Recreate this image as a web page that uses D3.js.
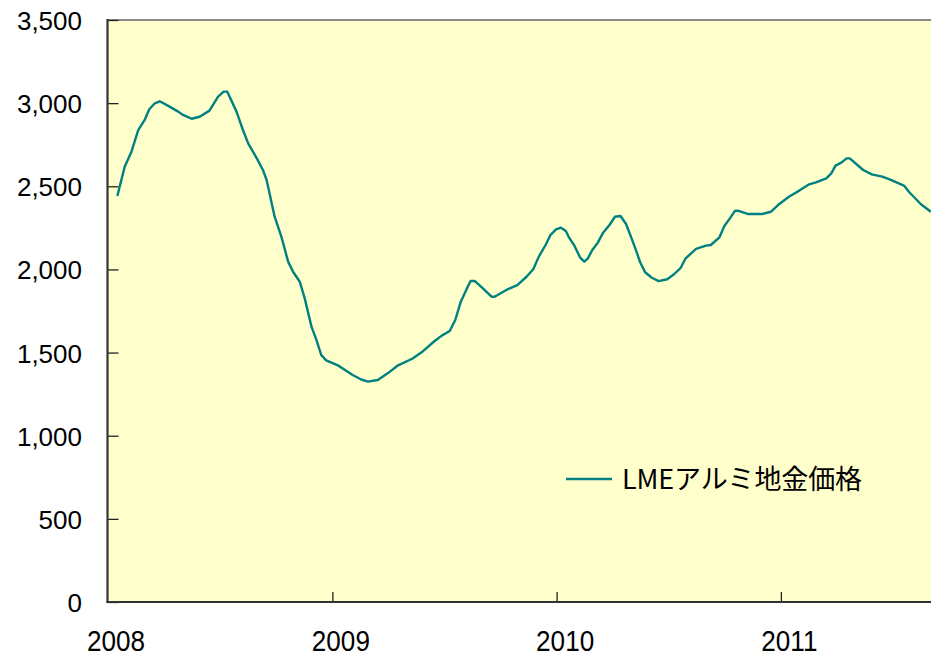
<!DOCTYPE html>
<html><head><meta charset="utf-8">
<script src="https://cdn.jsdelivr.net/npm/d3@7"></script>
<style>body{margin:0;background:#fff}svg{display:block}</style>
</head><body>
<svg id="c" width="931" height="657"></svg>
<script>
const dates = ["2008-01-17","2008-01-29","2008-02-09","2008-02-20","2008-03-02","2008-03-09","2008-03-18","2008-03-26","2008-04-11","2008-04-25","2008-05-03","2008-05-17","2008-05-30","2008-06-15","2008-06-29","2008-07-08","2008-07-14","2008-07-29","2008-08-08","2008-08-17","2008-08-31","2008-09-10","2008-09-16","2008-09-29","2008-10-10","2008-10-21","2008-10-29","2008-11-09","2008-11-17","2008-11-28","2008-12-06","2008-12-14","2008-12-22","2009-01-10","2009-01-26","2009-02-03","2009-02-17","2009-02-28","2009-03-16","2009-04-01","2009-04-17","2009-05-11","2009-05-28","2009-06-16","2009-06-28","2009-07-11","2009-07-20","2009-07-29","2009-08-08","2009-08-14","2009-08-21","2009-09-03","2009-09-17","2009-09-22","2009-10-14","2009-10-29","2009-11-13","2009-11-24","2009-12-03","2009-12-14","2009-12-22","2009-12-31","2010-01-08","2010-01-16","2010-01-21","2010-01-30","2010-02-08","2010-02-15","2010-02-21","2010-02-28","2010-03-09","2010-03-17","2010-03-28","2010-04-06","2010-04-15","2010-04-24","2010-05-03","2010-05-11","2010-05-17","2010-05-25","2010-06-05","2010-06-16","2010-06-30","2010-07-11","2010-07-22","2010-07-30","2010-08-16","2010-09-01","2010-09-09","2010-09-23","2010-10-01","2010-10-10","2010-10-18","2010-10-23","2010-11-09","2010-12-01","2010-12-16","2010-12-29","2011-01-14","2011-01-31","2011-02-16","2011-02-27","2011-03-16","2011-03-24","2011-03-31","2011-04-10","2011-04-18","2011-04-23","2011-05-15","2011-05-29","2011-06-15","2011-06-29","2011-07-21","2011-07-29","2011-08-17","2011-09-02"];
const prices = [2442,2618,2708,2838,2903,2963,2999,3011,2979,2949,2929,2906,2918,2955,3039,3069,3069,2949,2843,2758,2668,2598,2538,2317,2197,2047,1986,1926,1826,1656,1576,1485,1453,1423,1385,1365,1338,1325,1335,1375,1421,1463,1507,1568,1602,1630,1696,1806,1886,1930,1930,1886,1836,1836,1882,1906,1956,2001,2077,2147,2207,2241,2251,2231,2193,2143,2073,2047,2067,2117,2161,2217,2267,2317,2321,2273,2187,2107,2043,1983,1950,1930,1941,1971,2010,2067,2123,2143,2147,2193,2261,2307,2351,2353,2333,2333,2347,2392,2437,2474,2512,2524,2548,2578,2624,2644,2668,2668,2598,2572,2558,2538,2502,2464,2392,2347];
const yTicks = [0,500,1000,1500,2000,2500,3000,3500];
const xTickLabels = ["2008","2009","2010","2011"];
const seriesName = "LMEアルミ地金価格";

const parse = d3.timeParse("%Y-%m-%d");
const data = dates.map((d,i)=>({date:parse(d), v:prices[i]}));
const svg = d3.select("#c");
const pLeft = 107.5, pTop = 20, pBottom = 602;
const x = d3.scaleTime().domain([new Date(2008,0,1), new Date(2011,8,30)]).range([pLeft, pLeft + 1368*0.6144]);
const y = d3.scaleLinear().domain([0,3500]).range([pBottom, pTop]);

svg.append("rect").attr("x",pLeft).attr("y",pTop).attr("width",940-pLeft).attr("height",pBottom-pTop).attr("fill","#FFFFCC");

// top border
svg.append("line").attr("x1",pLeft).attr("x2",940).attr("y1",pTop).attr("y2",pTop).attr("stroke","#8a8a8a").attr("stroke-width",2);

// y axis
const yAxis = d3.axisRight(y).tickValues(yTicks).tickSize(11).tickFormat("");
const gy = svg.append("g").attr("transform",`translate(${pLeft},0)`).call(yAxis);
gy.select(".domain").remove();
gy.selectAll("line").attr("stroke","#222").attr("stroke-width",1.3);
svg.append("g").selectAll("text").data(yTicks).join("text")
  .attr("x",82).attr("y",d=>y(d)+1).attr("text-anchor","end").attr("dominant-baseline","central")
  .attr("font-family","Liberation Sans, Arial, sans-serif").attr("font-size",26).attr("fill","#000")
  .text(d=>d3.format(",")(d));

// x axis
const xTickDates = xTickLabels.map(s=>new Date(+s,0,1));
const xAxis = d3.axisTop(x).tickValues(xTickDates.slice(1)).tickSize(10).tickFormat("");
const gx = svg.append("g").attr("transform",`translate(0,${pBottom})`).call(xAxis);
gx.select(".domain").remove();
gx.selectAll("line").attr("stroke","#222").attr("stroke-width",1.3);
svg.append("g").selectAll("text").data(xTickLabels).join("text")
  .attr("transform",(d,i)=>`translate(${x(xTickDates[i])+8.5},650.5) scale(0.9,1)`)
  .attr("text-anchor","middle")
  .attr("font-family","Liberation Sans, Arial, sans-serif").attr("font-size",29).attr("fill","#000")
  .text(d=>d);

// axis lines
svg.append("line").attr("x1",pLeft).attr("x2",pLeft).attr("y1",pTop-1).attr("y2",pBottom+1).attr("stroke","#333").attr("stroke-width",2.2);
svg.append("line").attr("x1",pLeft-1).attr("x2",940).attr("y1",pBottom).attr("y2",pBottom).attr("stroke","#333").attr("stroke-width",2.2);

// series line
const line = d3.line().x(d=>x(d.date)).y(d=>y(d.v));
svg.append("path").datum(data).attr("d",line).attr("fill","none").attr("stroke","#008080").attr("stroke-width",2.4).attr("stroke-linejoin","round");

// legend
svg.append("line").attr("x1",566).attr("x2",612).attr("y1",479).attr("y2",479).attr("stroke","#008080").attr("stroke-width",2.4);
svg.append("text").attr("x",622).attr("y",489)
  .attr("font-family","'Noto Sans CJK JP', sans-serif").attr("font-size",27).attr("fill","#000")
  .attr("textLength",240).attr("lengthAdjust","spacing")
  .text(seriesName);
</script>
</body></html>
